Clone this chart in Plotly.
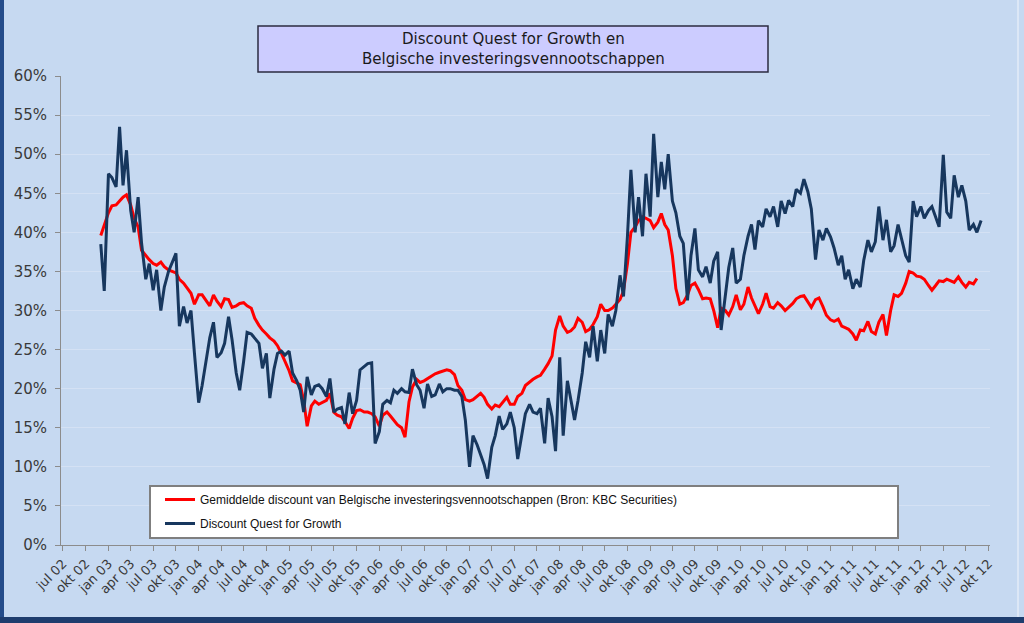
import pandas as pd
import plotly.graph_objects as go

# ---- data (percent), semi-monthly readings (1st and 15th of each month) ----
red_2002 = [39.6, 41.0]
red_2003 = [42.5, 43.4, 43.5, 44.0, 44.5, 44.8, 43.5, 41.8, 40.7, 37.7, 37.0, 36.5,
            36.0, 35.8, 36.2, 35.6, 35.2, 35.0, 34.8, 34.0, 33.5, 32.9, 32.2, 30.8]
red_2004 = [32.0, 32.0, 31.2, 30.6, 32.0, 31.2, 30.5, 31.5, 31.4, 30.4, 30.6, 30.9,
            31.0, 30.6, 30.3, 29.0, 28.1, 27.5, 27.0, 26.5, 26.1, 25.5, 24.5, 23.5]
red_2005 = [22.3, 21.0, 20.7, 20.5, 18.5, 15.2, 17.8, 18.4, 18.0, 18.2, 18.5, 19.4,
            17.0, 16.6, 16.4, 15.8, 14.9, 16.2, 17.2, 17.3, 17.0, 17.0, 16.8, 16.4]
red_2006 = [15.2, 16.6, 17.0, 16.5, 16.0, 15.4, 15.0, 13.8, 18.3, 20.2, 21.2, 20.8,
            21.0, 21.3, 21.7, 21.9, 22.1, 22.2, 22.4, 22.3, 21.8, 20.4, 19.8, 18.6]
red_2007 = [18.4, 18.6, 19.0, 19.4, 18.9, 18.0, 17.4, 17.9, 17.7, 18.2, 18.9, 18.0,
            18.0, 19.0, 19.4, 20.4, 20.9, 21.2, 21.5, 21.7, 22.5, 23.2, 24.2, 27.5]
red_2008 = [29.3, 28.0, 27.2, 27.4, 27.9, 29.0, 28.5, 27.3, 27.6, 28.2, 29.2, 30.8,
            30.0, 30.0, 30.3, 30.8, 31.4, 32.5, 36.0, 40.0, 40.7, 41.5, 42.0, 41.8]
red_2009 = [41.5, 40.6, 41.3, 42.4, 41.0, 40.3, 37.0, 32.8, 30.8, 31.0, 32.0, 33.2,
            33.5, 32.7, 31.5, 31.6, 31.5, 30.0, 27.8, 30.3, 30.0, 29.4, 30.5, 32.0]
red_2010 = [30.1, 30.8, 33.0, 31.6, 30.5, 29.6, 30.8, 32.2, 30.5, 30.3, 31.0, 30.6,
            30.0, 30.4, 30.9, 31.5, 31.8, 31.9, 31.0, 30.4, 31.4, 31.6, 30.5, 29.4]
red_2011 = [28.8, 28.6, 28.9, 28.0, 27.8, 27.6, 27.0, 26.2, 27.5, 27.4, 28.6, 27.3,
            27.0, 28.5, 29.5, 26.8, 30.0, 32.0, 31.8, 32.2, 33.5, 35.0, 34.8, 34.4]
red_2012 = [34.3, 34.0, 33.2, 32.6, 33.2, 33.8, 33.7, 34.0, 33.8, 33.6, 34.3, 33.6,
            33.0, 33.6, 33.4, 34.1]

blue_2002 = [38.5, 32.5]
blue_2003 = [47.5, 47.0, 45.8, 53.5, 46.0, 50.5, 42.8, 40.0, 44.5, 38.6, 34.0, 36.0,
             32.6, 35.2, 30.0, 33.0, 35.0, 36.2, 37.3, 28.0, 30.5, 28.4, 30.0, 24.5]
blue_2004 = [18.2, 20.4, 23.5, 26.5, 28.5, 24.0, 24.6, 25.8, 29.2, 26.3, 22.0, 19.8,
             23.5, 27.2, 27.0, 26.4, 25.8, 22.6, 24.5, 18.8, 22.5, 24.5, 24.8, 24.3]
blue_2005 = [24.8, 22.0, 21.0, 19.8, 17.0, 21.5, 19.2, 20.3, 20.5, 20.0, 19.0, 21.3,
             17.0, 17.4, 17.6, 15.5, 19.5, 16.8, 18.5, 22.4, 22.8, 23.2, 23.3, 13.0]
blue_2006 = [14.5, 18.0, 18.5, 18.2, 19.8, 19.4, 20.0, 19.6, 19.5, 22.5, 20.5, 19.8,
             17.5, 20.6, 19.0, 19.2, 20.6, 19.6, 20.0, 20.0, 19.8, 19.8, 19.0, 16.0]
blue_2007 = [10.0, 14.0, 12.8, 11.5, 10.3, 8.5, 12.5, 14.0, 16.5, 14.8, 15.5, 17.0,
             15.0, 11.0, 14.0, 16.8, 18.0, 17.0, 16.8, 17.5, 13.0, 18.8, 16.4, 12.0]
blue_2008 = [24.0, 14.0, 21.0, 18.5, 16.0, 18.5, 22.0, 26.0, 24.0, 28.0, 23.5, 27.5,
             24.5, 29.5, 28.0, 30.0, 34.5, 31.8, 39.5, 48.0, 40.0, 44.5, 39.5, 47.5]
blue_2009 = [42.0, 52.6, 44.5, 49.0, 45.5, 50.0, 44.0, 42.5, 39.5, 38.6, 31.3, 37.0,
             40.5, 35.2, 34.3, 35.6, 33.5, 36.3, 37.5, 27.5, 32.0, 35.5, 38.0, 33.5]
blue_2010 = [34.0, 37.0, 39.5, 41.0, 37.8, 41.5, 40.7, 43.0, 42.0, 43.3, 40.7, 44.0,
             42.4, 44.1, 43.3, 45.5, 45.0, 46.8, 45.2, 43.0, 36.5, 40.3, 39.0, 40.5]
blue_2011 = [39.4, 38.0, 35.8, 37.0, 34.0, 35.2, 32.8, 34.0, 33.0, 36.4, 39.0, 37.5,
             38.8, 43.3, 39.0, 41.6, 37.5, 38.3, 41.0, 39.0, 37.0, 36.2, 44.0, 42.0]
blue_2012 = [43.3, 41.8, 42.8, 43.3, 41.8, 40.7, 49.9, 42.6, 41.8, 47.3, 44.5, 46.0,
             44.0, 40.3, 41.0, 40.0, 41.5]

red_values = (red_2002 + red_2003 + red_2004 + red_2005 + red_2006 + red_2007
              + red_2008 + red_2009 + red_2010 + red_2011 + red_2012)
blue_values = (blue_2002 + blue_2003 + blue_2004 + blue_2005 + blue_2006 + blue_2007
               + blue_2008 + blue_2009 + blue_2010 + blue_2011 + blue_2012)

red_dates = pd.date_range("2002-12-01", periods=len(red_values), freq="SMS")
blue_dates = pd.date_range("2002-12-01", periods=len(blue_values), freq="SMS")

red_name = "Gemiddelde discount van Belgische investeringsvennootschappen (Bron: KBC Securities)"
blue_name = "Discount Quest for Growth"
title_text = "Discount Quest for Growth en<br>Belgische investeringsvennootschappen"

tick_dates = pd.date_range("2002-07-01", "2012-10-01", freq="QS-JAN")
month_nl = {1: "jan", 4: "apr", 7: "jul", 10: "okt"}
tick_labels = [f"{month_nl[d.month]} {d.year % 100:02d}" for d in tick_dates]

y_ticks = list(range(0, 61, 5))
y_labels = [f"{v}%" for v in y_ticks]

# ---- figure ----
BG = "#C6D9F1"
fig = go.Figure()
fig.add_trace(go.Scatter(x=red_dates, y=red_values, mode="lines", name=red_name,
                         legendgroup="a",
                         line=dict(color="#FF0000", width=3)))
fig.add_trace(go.Scatter(x=blue_dates, y=blue_values, mode="lines", name=blue_name,
                         legendgroup="b",
                         line=dict(color="#17375E", width=3)))

W, H = 1024, 623
L, R, T, B = 61, 990, 76, 545


def px(x):
    return (x - L) / (R - L)


def py(y):
    return (B - y) / (B - T)


fig.update_layout(
    width=W, height=H,
    margin=dict(l=L, r=W - R, t=T, b=H - B, pad=0),
    paper_bgcolor=BG, plot_bgcolor=BG,
    font=dict(family="DejaVu Sans, Verdana, sans-serif", size=13, color="#3A3A3A"),
    showlegend=True,
    legend=dict(x=px(160), y=py(485), xanchor="left", yanchor="top",
                bgcolor="rgba(0,0,0,0)", borderwidth=0, tracegroupgap=5,
                font=dict(family="Liberation Sans Narrow, Liberation Sans, sans-serif",
                          size=12, color="#111111")),
    xaxis=dict(type="date", range=["2002-06-23", "2012-10-07"],
               tickmode="array", tickvals=tick_dates, ticktext=tick_labels,
               tickangle=-45, ticks="outside", ticklen=5, tickcolor="#8C8C8C",
               showline=True, linecolor="#8C8C8C", linewidth=1,
               showgrid=False, zeroline=False,
               tickfont=dict(size=13, color="#3A3A3A")),
    yaxis=dict(range=[0, 60], tickmode="array", tickvals=y_ticks, ticktext=y_labels,
               ticks="outside", ticklen=5, tickcolor="#8C8C8C",
               showline=True, linecolor="#8C8C8C", linewidth=1,
               showgrid=True, gridcolor="#D4E1F4", gridwidth=1, zeroline=False,
               ticklabelstandoff=5,
               tickfont=dict(size=15, color="#3A3A3A")),
)

shapes = [
    # title box
    dict(type="rect", xref="paper", yref="paper", x0=px(258), x1=px(768),
         y0=py(72), y1=py(26), fillcolor="#CCCCFF",
         line=dict(color="#2B2B40", width=1.5), layer="above"),
    # legend box
    dict(type="rect", xref="paper", yref="paper", x0=px(150), x1=px(898),
         y0=py(538), y1=py(486), fillcolor="#FFFFFF",
         line=dict(color="#7F7F7F", width=2), layer="above"),
    # window frame: left strip and bottom strip
    dict(type="rect", xref="paper", yref="paper", x0=px(0), x1=px(4),
         y0=py(623), y1=py(0), fillcolor="#244C8A", line=dict(width=0), layer="above"),
    dict(type="rect", xref="paper", yref="paper", x0=px(0), x1=px(1024),
         y0=py(623), y1=py(617), fillcolor="#1E3D6E", line=dict(width=0), layer="above"),
    dict(type="line", xref="paper", yref="paper", x0=px(1018), x1=px(1018),
         y0=py(617), y1=py(0), line=dict(color="#DCE7F6", width=2), layer="above"),
]
fig.update_layout(shapes=shapes)

fig.add_annotation(xref="paper", yref="paper", x=px(513), y=py(49),
                   text=title_text, showarrow=False, align="center",
                   xanchor="center", yanchor="middle",
                   font=dict(family="DejaVu Sans, Verdana, sans-serif", size=15,
                             color="#1A1A1A"))

fig.write_html("out.html",
               config={"displayModeBar": False},
               post_script="document.body.style.margin='0px';"
                           "document.body.style.overflow='hidden';")
